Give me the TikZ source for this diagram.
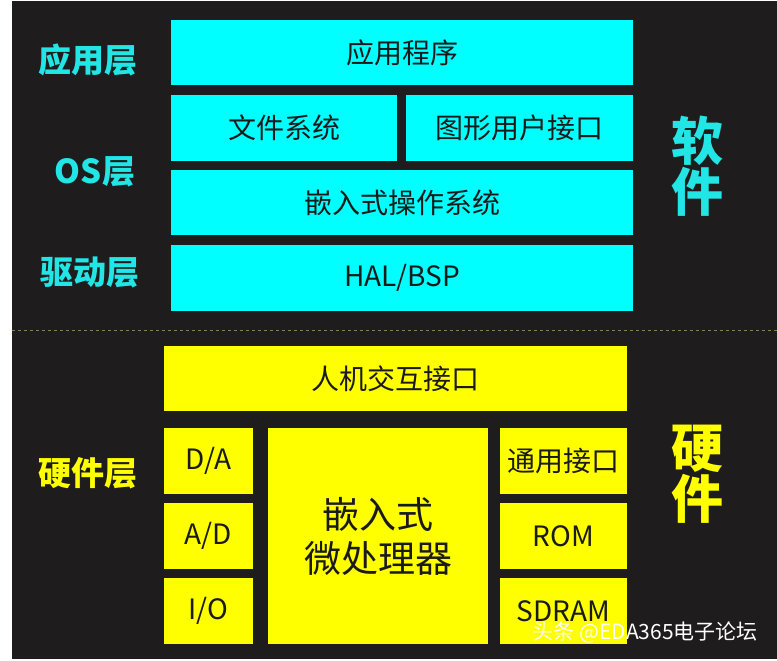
\documentclass[tikz,border=0pt]{standalone}
\usepackage{fontspec}
\setmainfont{Noto Sans CJK SC}
\definecolor{bgdark}{HTML}{1E1C1C}
\definecolor{cyanbox}{HTML}{00FFFF}
\definecolor{yellowbox}{HTML}{FFFF00}
\definecolor{cyanlabel}{HTML}{22E6E6}
\definecolor{boxtext}{HTML}{1A1A1A}
\definecolor{dashcol}{HTML}{8C7C50}
\begin{document}
\begin{tikzpicture}[x=1pt,y=-1pt,
  sbox/.style={fill=cyanbox, text=boxtext, inner sep=0pt, font=\fontsize{28}{30}\selectfont},
  hbox/.style={fill=yellowbox, text=boxtext, inner sep=0pt, font=\fontsize{28}{30}\selectfont},
  slabel/.style={text=cyanlabel, font=\bfseries\fontsize{33}{35}\selectfont, inner sep=0pt},
  hlabel/.style={text=yellowbox, font=\bfseries\fontsize{33}{35}\selectfont, inner sep=0pt},
  biglabel/.style={font=\bfseries\fontsize{52}{51}\selectfont, align=center, inner sep=0pt}
]
\fill[white] (0,0) rectangle (777,661);
\fill[bgdark] (12,1) rectangle (777,659);
\useasboundingbox (0,0) rectangle (777,661);

% software boxes
\node[sbox, minimum width=462, minimum height=65] (app) at (402,52.5) {应用程序};
\node[sbox, minimum width=226, minimum height=66] (fs) at (284,128) {文件系统};
\node[sbox, minimum width=227, minimum height=66] (gui) at (519.5,128) {图形用户接口};
\node[sbox, minimum width=462, minimum height=65] (os) at (402,202.5) {嵌入式操作系统};
\node[sbox, minimum width=462, minimum height=66] (hal) at (402,278) {HAL/BSP};

% hardware boxes
\node[hbox, minimum width=463, minimum height=65] (hmi) at (395.5,378.5) {人机交互接口};
\node[hbox, minimum width=89, minimum height=66] (da) at (208.5,461) {D/A};
\node[hbox, minimum width=89, minimum height=66] (ad) at (208.5,536) {A/D};
\node[hbox, minimum width=89, minimum height=66] (io) at (208.5,611) {I/O};
\node[hbox, minimum width=220, minimum height=216, align=center, font=\fontsize{37}{44}\selectfont] (cpu) at (378,536) {嵌入式\\微处理器};
\node[hbox, minimum width=127, minimum height=66] (gen) at (563.5,461) {通用接口};
\node[hbox, minimum width=127, minimum height=66] (rom) at (563.5,536) {ROM};
\node[hbox, minimum width=127, minimum height=66] (sdram) at (563.5,611) {SDRAM};

% separator
\coordinate (sepL) at (12,330);
\coordinate (sepR) at (777,330);
\draw[dashcol, dashed, line width=0.8pt] (sepL) -- (sepR);

% layer labels
\node[slabel] (lapp) at (88,60) {应用层};
\node[slabel] (los) at (95,172) {OS层};
\node[slabel] (ldrv) at (90,272) {驱动层};
\node[hlabel] (lhw) at (88,473) {硬件层};

\node[biglabel, text=cyanlabel] (soft) at (697,166) {软\\件};
\node[biglabel, text=yellowbox] (hard) at (697,474) {硬\\件};

% watermark
\node[text=white, font=\fontsize{21}{23}\selectfont, anchor=east, inner sep=0pt] (wm) at (758,632) {头条 @EDA365电子论坛};
\end{tikzpicture}
\end{document}
